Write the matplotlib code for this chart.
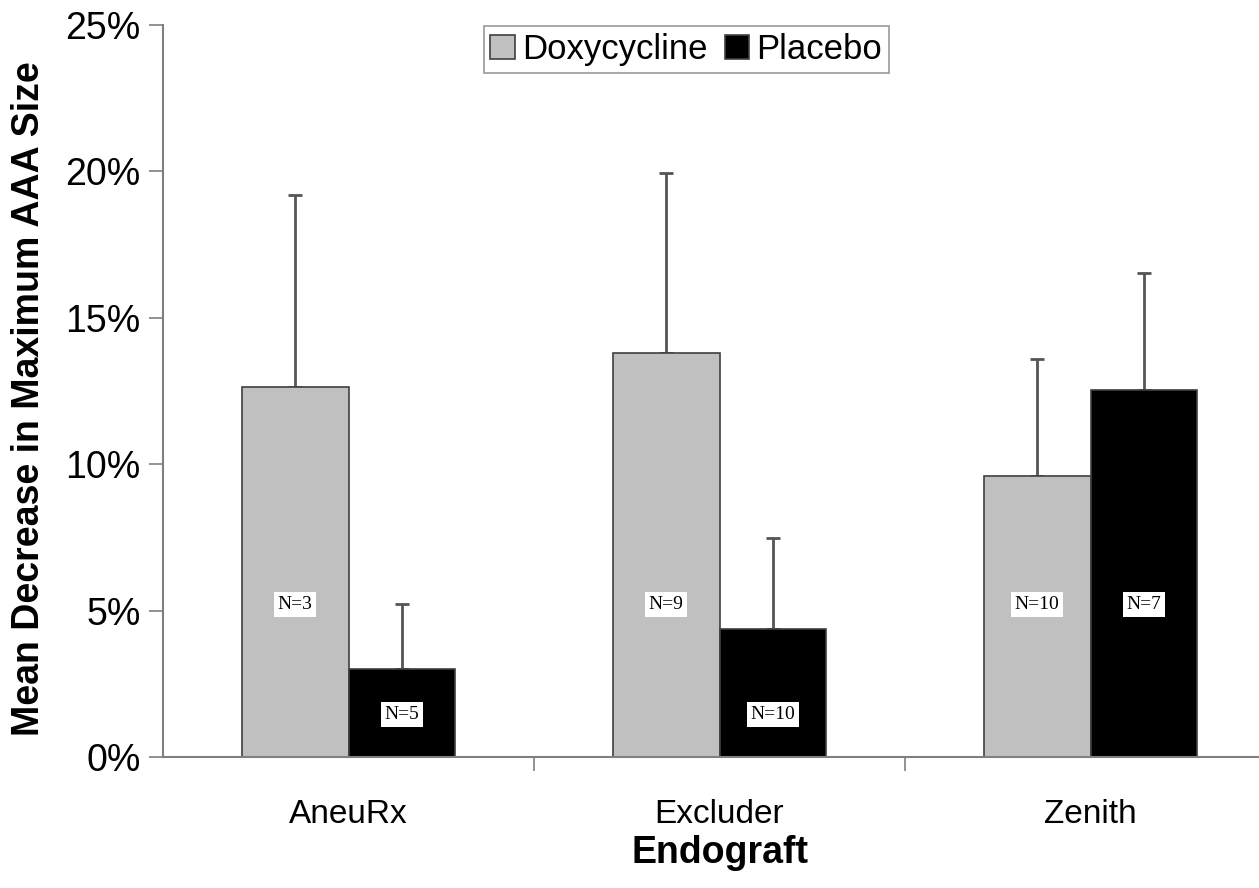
import numpy as np
import matplotlib
matplotlib.use('Agg')
import matplotlib.pyplot as plt
from matplotlib.ticker import FuncFormatter

# data (percent)
grafts = ['AneuRx', 'Excluder', 'Zenith']
doxy_mean = [12.64, 13.81, 9.60]
doxy_err = [6.55, 6.12, 3.98]
plac_mean = [3.01, 4.38, 12.54]
plac_err = [2.21, 3.11, 4.00]
doxy_n = ['N=3', 'N=9', 'N=10']
plac_n = ['N=5', 'N=10', 'N=7']

plt.rcParams['font.family'] = ['Liberation Sans', 'DejaVu Sans']

fig = plt.figure(figsize=(12.59, 8.88), dpi=100)
ax = fig.add_axes([163 / 1259, 1 - 757 / 888, 1113 / 1259, (757 - 25) / 888])

x = np.arange(len(grafts))
w = 0.288
axis_grey = '#808080'

ax.bar(x - w / 2, doxy_mean, w, color='#c0c0c0', edgecolor='#404040',
       linewidth=1.2, label='Doxycycline', zorder=2)
ax.bar(x + w / 2, plac_mean, w, color='black', edgecolor='#404040',
       linewidth=1.2, label='Placebo', zorder=2)

# upper-only error bars
ax.errorbar(x - w / 2, doxy_mean, yerr=[np.zeros(3), doxy_err], fmt='none',
            ecolor='#555555', elinewidth=2, capsize=5, capthick=2, zorder=1)
ax.errorbar(x + w / 2, plac_mean, yerr=[np.zeros(3), plac_err], fmt='none',
            ecolor='#555555', elinewidth=2, capsize=5, capthick=2, zorder=1)

# sample size boxes
box = dict(boxstyle='square,pad=0.2', facecolor='white', edgecolor='none')
for i in range(len(grafts)):
    for xpos, val, lab in [(x[i] - w / 2, doxy_mean[i], doxy_n[i]),
                           (x[i] + w / 2, plac_mean[i], plac_n[i])]:
        ypos = 5.2 if val > 7 else 1.45
        ax.text(xpos, ypos, lab, ha='center', va='center', fontsize=14,
                family='Liberation Serif', bbox=box, zorder=3)

ax.set_xlim(-0.5, 2.5)
ax.set_ylim(0, 25)
ax.set_yticks([0, 5, 10, 15, 20, 25])
ax.yaxis.set_major_formatter(FuncFormatter(lambda v, p: f'{v:.0f}%'))
ax.set_xticks([0.5, 1.5])
ax.set_xticklabels([])
ax.set_xticks(x, minor=True)
ax.set_xticklabels(grafts, minor=True, fontsize=24)
ax.tick_params(axis='x', which='minor', length=0, pad=30)
ax.tick_params(axis='x', which='major', length=10, width=1.2, color=axis_grey)
ax.tick_params(axis='y', length=10, width=1.2, color=axis_grey, labelsize=27, pad=6)

for s in ['top', 'right']:
    ax.spines[s].set_visible(False)
for s in ['left', 'bottom']:
    ax.spines[s].set_color(axis_grey)
    ax.spines[s].set_linewidth(1.5)

ax.set_xlabel('Endograft', fontsize=27, fontweight='bold', labelpad=4)
ax.set_ylabel('Mean Decrease in Maximum AAA Size', fontsize=27,
              fontweight='bold')
ax.yaxis.set_label_coords(-0.104, 0.49)

leg = ax.legend(loc='upper center', ncol=2, fontsize=25,
                frameon=True, fancybox=False, handlelength=0.7, handleheight=0.7,
                handletextpad=0.2, columnspacing=0.5, borderpad=0.2,
                borderaxespad=0.0)
leg.get_frame().set_edgecolor(axis_grey)
leg.get_frame().set_linewidth(1.2)
leg.set_bbox_to_anchor((686 / 1259, 1 - 26 / 888), transform=fig.transFigure)

fig.savefig('out.png', dpi=100)
